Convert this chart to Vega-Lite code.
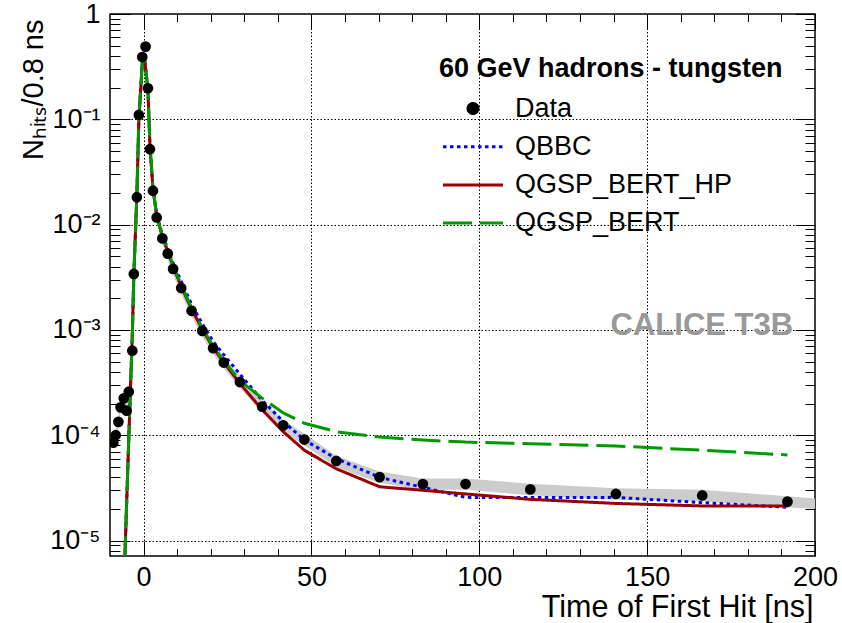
{
  "$schema": "https://vega.github.io/schema/vega-lite/v6.json",
  "width": 705,
  "height": 542,
  "autosize": {"type": "none"},
  "padding": {"left": 110, "top": 14, "right": 27, "bottom": 67},
  "background": "white",
  "config": {
    "view": {"stroke": "black", "strokeWidth": 1.5},
    "font": "Liberation Sans",
    "axis": {"labelFont": "Liberation Sans", "titleFont": "Liberation Sans", "labelColor": "black", "titleColor": "black", "titleFontWeight": "normal"}
  },
  "datasets": {
    "band": [
      {"x": -9.0, "lo": 7.5e-5, "hi": 9.6e-5},
      {"x": -8.3, "lo": 8.8e-5, "hi": 1.13e-4},
      {"x": -7.5, "lo": 1.18e-4, "hi": 1.51e-4},
      {"x": -6.85, "lo": 1.62e-4, "hi": 2.08e-4},
      {"x": -5.9, "lo": 1.97e-4, "hi": 2.53e-4},
      {"x": -5.05, "lo": 1.5e-4, "hi": 1.93e-4},
      {"x": -4.4, "lo": 2.28e-4, "hi": 2.93e-4},
      {"x": -3.35, "lo": 5.59e-4, "hi": 7.18e-4},
      {"x": -2.9, "lo": 2.99e-3, "hi": 3.84e-3},
      {"x": -2.0, "lo": 0.016, "hi": 0.0206},
      {"x": -1.4, "lo": 0.0968, "hi": 0.124},
      {"x": -0.4, "lo": 0.343, "hi": 0.441},
      {"x": 0.6, "lo": 0.431, "hi": 0.554},
      {"x": 1.3, "lo": 0.173, "hi": 0.223},
      {"x": 1.9, "lo": 0.0458, "hi": 0.0588},
      {"x": 2.8, "lo": 0.0185, "hi": 0.0237},
      {"x": 3.9, "lo": 0.0103, "hi": 0.0132},
      {"x": 5.6, "lo": 0.00651, "hi": 0.00836},
      {"x": 7.2, "lo": 0.00466, "hi": 0.00599},
      {"x": 8.8, "lo": 0.00334, "hi": 0.00429},
      {"x": 11.2, "lo": 0.0022, "hi": 0.00283},
      {"x": 14.3, "lo": 0.00134, "hi": 0.00172},
      {"x": 17.5, "lo": 0.000862, "hi": 0.00111},
      {"x": 20.7, "lo": 0.00059, "hi": 0.000757},
      {"x": 23.9, "lo": 0.000431, "hi": 0.000554},
      {"x": 28.7, "lo": 0.000282, "hi": 0.000362},
      {"x": 35.3, "lo": 0.000165, "hi": 0.000211},
      {"x": 41.6, "lo": 0.000109, "hi": 0.00014},
      {"x": 47.9, "lo": 8.0e-5, "hi": 1.03e-4},
      {"x": 57.4, "lo": 5.0e-5, "hi": 6.4e-5},
      {"x": 70.3, "lo": 3.52e-5, "hi": 4.52e-5},
      {"x": 83.2, "lo": 3.03e-5, "hi": 3.89e-5},
      {"x": 95.9, "lo": 3.03e-5, "hi": 3.89e-5},
      {"x": 115.2, "lo": 2.69e-5, "hi": 3.46e-5},
      {"x": 140.7, "lo": 2.44e-5, "hi": 3.13e-5},
      {"x": 166.4, "lo": 2.36e-5, "hi": 3.03e-5},
      {"x": 191.8, "lo": 2.06e-5, "hi": 2.64e-5},
      {"x": 200, "lo": 2.0e-5, "hi": 2.5e-5}
    ],
    "data": [
      {"x": -9.0, "y": 8.5e-5},
      {"x": -8.3, "y": 1.0e-4},
      {"x": -7.5, "y": 1.34e-4},
      {"x": -6.85, "y": 1.84e-4},
      {"x": -5.9, "y": 2.24e-4},
      {"x": -5.05, "y": 1.71e-4},
      {"x": -4.4, "y": 2.59e-4},
      {"x": -3.35, "y": 6.35e-4},
      {"x": -2.9, "y": 3.4e-3},
      {"x": -2.0, "y": 0.0182},
      {"x": -1.4, "y": 0.11},
      {"x": -0.4, "y": 0.39},
      {"x": 0.6, "y": 0.49},
      {"x": 1.3, "y": 0.197},
      {"x": 1.9, "y": 0.052},
      {"x": 2.8, "y": 0.021},
      {"x": 3.9, "y": 0.0117},
      {"x": 5.6, "y": 0.0074},
      {"x": 7.2, "y": 0.0053},
      {"x": 8.8, "y": 0.0038},
      {"x": 11.2, "y": 0.0025},
      {"x": 14.3, "y": 0.00152},
      {"x": 17.5, "y": 0.00098},
      {"x": 20.7, "y": 0.00067},
      {"x": 23.9, "y": 0.00049},
      {"x": 28.7, "y": 0.00032},
      {"x": 35.3, "y": 0.000187},
      {"x": 41.6, "y": 0.000124},
      {"x": 47.9, "y": 9.1e-5},
      {"x": 57.4, "y": 5.7e-5},
      {"x": 70.3, "y": 4.0e-5},
      {"x": 83.2, "y": 3.44e-5},
      {"x": 95.9, "y": 3.44e-5},
      {"x": 115.2, "y": 3.06e-5},
      {"x": 140.7, "y": 2.77e-5},
      {"x": 166.4, "y": 2.68e-5},
      {"x": 191.8, "y": 2.34e-5}
    ],
    "curves": [
      {"s": "QBBC", "x": -6.0, "y": 2.6e-6},
      {"s": "QBBC", "x": -5.0, "y": 2.5e-5},
      {"s": "QBBC", "x": -4.4, "y": 9.5e-5},
      {"s": "QBBC", "x": -3.35, "y": 9.0e-4},
      {"s": "QBBC", "x": -2.9, "y": 3.3e-3},
      {"s": "QBBC", "x": -2.0, "y": 0.019},
      {"s": "QBBC", "x": -1.4, "y": 0.1},
      {"s": "QBBC", "x": -0.4, "y": 0.34},
      {"s": "QBBC", "x": 0.3, "y": 0.37},
      {"s": "QBBC", "x": 1.3, "y": 0.19},
      {"s": "QBBC", "x": 1.9, "y": 0.056},
      {"s": "QBBC", "x": 2.8, "y": 0.022},
      {"s": "QBBC", "x": 3.9, "y": 0.0125},
      {"s": "QBBC", "x": 5.6, "y": 0.008},
      {"s": "QBBC", "x": 7.2, "y": 0.0059},
      {"s": "QBBC", "x": 8.8, "y": 0.0043},
      {"s": "QBBC", "x": 11.2, "y": 0.0029},
      {"s": "QBBC", "x": 14.3, "y": 0.00175},
      {"s": "QBBC", "x": 17.5, "y": 0.00114},
      {"s": "QBBC", "x": 20.7, "y": 0.00078},
      {"s": "QBBC", "x": 23.9, "y": 0.00058},
      {"s": "QBBC", "x": 28.7, "y": 0.00038},
      {"s": "QBBC", "x": 35.3, "y": 0.000215},
      {"s": "QBBC", "x": 41.6, "y": 0.000135},
      {"s": "QBBC", "x": 47.9, "y": 9.0e-5},
      {"s": "QBBC", "x": 57.4, "y": 6.0e-5},
      {"s": "QBBC", "x": 70.3, "y": 3.98e-5},
      {"s": "QBBC", "x": 83.2, "y": 3.2e-5},
      {"s": "QBBC", "x": 95.9, "y": 2.57e-5},
      {"s": "QBBC", "x": 115.2, "y": 2.56e-5},
      {"s": "QBBC", "x": 140.7, "y": 2.57e-5},
      {"s": "QBBC", "x": 166.4, "y": 2.29e-5},
      {"s": "QBBC", "x": 191.8, "y": 2.07e-5},
      {"s": "QGSP_BERT_HP", "x": -6.0, "y": 2.6e-6},
      {"s": "QGSP_BERT_HP", "x": -5.0, "y": 2.5e-5},
      {"s": "QGSP_BERT_HP", "x": -4.4, "y": 9.5e-5},
      {"s": "QGSP_BERT_HP", "x": -3.35, "y": 9.0e-4},
      {"s": "QGSP_BERT_HP", "x": -2.9, "y": 3.3e-3},
      {"s": "QGSP_BERT_HP", "x": -2.0, "y": 0.019},
      {"s": "QGSP_BERT_HP", "x": -1.4, "y": 0.1},
      {"s": "QGSP_BERT_HP", "x": -0.4, "y": 0.34},
      {"s": "QGSP_BERT_HP", "x": 0.3, "y": 0.37},
      {"s": "QGSP_BERT_HP", "x": 1.3, "y": 0.19},
      {"s": "QGSP_BERT_HP", "x": 1.9, "y": 0.056},
      {"s": "QGSP_BERT_HP", "x": 2.8, "y": 0.022},
      {"s": "QGSP_BERT_HP", "x": 3.9, "y": 0.0122},
      {"s": "QGSP_BERT_HP", "x": 5.6, "y": 0.0077},
      {"s": "QGSP_BERT_HP", "x": 7.2, "y": 0.0056},
      {"s": "QGSP_BERT_HP", "x": 8.8, "y": 0.004},
      {"s": "QGSP_BERT_HP", "x": 11.2, "y": 0.0026},
      {"s": "QGSP_BERT_HP", "x": 14.3, "y": 0.00158},
      {"s": "QGSP_BERT_HP", "x": 17.5, "y": 0.00101},
      {"s": "QGSP_BERT_HP", "x": 20.7, "y": 0.00068},
      {"s": "QGSP_BERT_HP", "x": 23.9, "y": 0.00049},
      {"s": "QGSP_BERT_HP", "x": 28.7, "y": 0.00031},
      {"s": "QGSP_BERT_HP", "x": 35.3, "y": 0.000175},
      {"s": "QGSP_BERT_HP", "x": 41.6, "y": 0.000108},
      {"s": "QGSP_BERT_HP", "x": 47.9, "y": 7.2e-5},
      {"s": "QGSP_BERT_HP", "x": 57.4, "y": 4.8e-5},
      {"s": "QGSP_BERT_HP", "x": 70.3, "y": 3.24e-5},
      {"s": "QGSP_BERT_HP", "x": 83.2, "y": 3.0e-5},
      {"s": "QGSP_BERT_HP", "x": 95.9, "y": 2.77e-5},
      {"s": "QGSP_BERT_HP", "x": 115.2, "y": 2.46e-5},
      {"s": "QGSP_BERT_HP", "x": 140.7, "y": 2.25e-5},
      {"s": "QGSP_BERT_HP", "x": 166.4, "y": 2.13e-5},
      {"s": "QGSP_BERT_HP", "x": 191.8, "y": 2.13e-5},
      {"s": "QGSP_BERT", "x": -6.0, "y": 2.6e-6},
      {"s": "QGSP_BERT", "x": -5.0, "y": 2.5e-5},
      {"s": "QGSP_BERT", "x": -4.4, "y": 9.5e-5},
      {"s": "QGSP_BERT", "x": -3.35, "y": 9.0e-4},
      {"s": "QGSP_BERT", "x": -2.9, "y": 3.3e-3},
      {"s": "QGSP_BERT", "x": -2.0, "y": 0.019},
      {"s": "QGSP_BERT", "x": -1.4, "y": 0.1},
      {"s": "QGSP_BERT", "x": -0.4, "y": 0.34},
      {"s": "QGSP_BERT", "x": 0.3, "y": 0.37},
      {"s": "QGSP_BERT", "x": 1.3, "y": 0.19},
      {"s": "QGSP_BERT", "x": 1.9, "y": 0.056},
      {"s": "QGSP_BERT", "x": 2.8, "y": 0.022},
      {"s": "QGSP_BERT", "x": 3.9, "y": 0.0123},
      {"s": "QGSP_BERT", "x": 5.6, "y": 0.0078},
      {"s": "QGSP_BERT", "x": 7.2, "y": 0.0057},
      {"s": "QGSP_BERT", "x": 8.8, "y": 0.0041},
      {"s": "QGSP_BERT", "x": 11.2, "y": 0.0027},
      {"s": "QGSP_BERT", "x": 14.3, "y": 0.00162},
      {"s": "QGSP_BERT", "x": 17.5, "y": 0.00104},
      {"s": "QGSP_BERT", "x": 20.7, "y": 0.0007},
      {"s": "QGSP_BERT", "x": 23.9, "y": 0.00051},
      {"s": "QGSP_BERT", "x": 28.7, "y": 0.00033},
      {"s": "QGSP_BERT", "x": 35.3, "y": 0.000225},
      {"s": "QGSP_BERT", "x": 41.6, "y": 0.000163},
      {"s": "QGSP_BERT", "x": 47.9, "y": 0.00013},
      {"s": "QGSP_BERT", "x": 57.4, "y": 0.000108},
      {"s": "QGSP_BERT", "x": 70.3, "y": 9.6e-5},
      {"s": "QGSP_BERT", "x": 83.2, "y": 9.0e-5},
      {"s": "QGSP_BERT", "x": 95.9, "y": 8.6e-5},
      {"s": "QGSP_BERT", "x": 115.2, "y": 8.3e-5},
      {"s": "QGSP_BERT", "x": 140.7, "y": 7.9e-5},
      {"s": "QGSP_BERT", "x": 166.4, "y": 7.2e-5},
      {"s": "QGSP_BERT", "x": 191.8, "y": 6.5e-5}
    ],
    "note": [{"label": "CALICE T3B"}]
  },
  "resolve": {"axis": {"x": "independent", "y": "independent"}},
  "layer": [
    {
      "data": {"name": "band"},
      "mark": {"type": "area", "color": "#cccccc", "clip": true},
      "encoding": {
        "x": {
          "field": "x", "type": "quantitative",
          "scale": {"domain": [-10, 200], "nice": false, "zero": false},
          "axis": {
            "orient": "bottom",
            "values": [0, 10, 20, 30, 40, 50, 60, 70, 80, 90, 100, 110, 120, 130, 140, 150, 160, 170, 180, 190, 200],
            "labelExpr": "datum.value % 50 == 0 ? '' + datum.value : ''",
            "labelFontSize": 27, "labelPadding": 23, "labelFlush": false, "labelOverlap": false,
            "domain": false,
            "grid": true, "gridColor": "black", "gridDash": [1.5, 2], "gridWidth": 1,
            "gridOpacity": {"condition": {"test": "datum.value % 50 == 0 && datum.value < 200", "value": 1}, "value": 0},
            "tickColor": "black", "tickWidth": 1,
            "tickSize": {"condition": {"test": "datum.value % 50 == 0", "value": -15}, "value": -7.5},
            "title": "Time of First Hit [ns]", "titleFontSize": 30.5,
            "titleAnchor": "end", "titleAlign": "right", "titleBaseline": "alphabetic",
            "titleX": 703, "titleY": 60
          }
        },
        "y": {
          "field": "lo", "type": "quantitative",
          "scale": {"type": "log", "domain": [0.00000713, 1], "nice": false},
          "axis": {
            "orient": "left",
            "values": [0.000008, 0.000009, 0.00001, 0.00002, 0.00003, 0.00004, 0.00005, 0.00006, 0.00007, 0.00008, 0.00009, 0.0001, 0.0002, 0.0003, 0.0004, 0.0005, 0.0006, 0.0007, 0.0008, 0.0009, 0.001, 0.002, 0.003, 0.004, 0.005, 0.006, 0.007, 0.008, 0.009, 0.01, 0.02, 0.03, 0.04, 0.05, 0.06, 0.07, 0.08, 0.09, 0.1, 0.2, 0.3, 0.4, 0.5, 0.6, 0.7, 0.8, 0.9, 1],
            "labelExpr": "datum.value == 1 ? '1' : datum.value == 0.1 ? '10⁻¹' : datum.value == 0.01 ? '10⁻²' : datum.value == 0.001 ? '10⁻³' : datum.value == 0.0001 ? '10⁻⁴' : datum.value == 0.00001 ? '10⁻⁵' : ''",
            "labelFontSize": 27, "labelPadding": 30, "labelFlush": false, "labelOverlap": false,
            "domain": false,
            "grid": true, "gridColor": "black", "gridDash": [1.5, 2], "gridWidth": 1,
            "gridOpacity": {"condition": {"test": "abs(log(datum.value)/LN10 - round(log(datum.value)/LN10)) < 0.001 && datum.value < 0.5", "value": 1}, "value": 0},
            "tickColor": "black", "tickWidth": 1,
            "tickSize": {"condition": {"test": "abs(log(datum.value)/LN10 - round(log(datum.value)/LN10)) < 0.001", "value": -20}, "value": -10},
            "title": "Nₕᵢₜₛ/0.8 ns", "titleFontSize": 29,
            "titleAngle": 270, "titleAlign": "right", "titleBaseline": "alphabetic",
            "titleX": -68, "titleY": 5
          }
        },
        "y2": {"field": "hi"}
      }
    },
    {
      "data": {"name": "curves"},
      "mark": {"type": "line", "clip": true, "strokeWidth": 3},
      "encoding": {
        "x": {
          "field": "x", "type": "quantitative",
          "axis": {
            "orient": "top",
            "values": [0, 10, 20, 30, 40, 50, 60, 70, 80, 90, 100, 110, 120, 130, 140, 150, 160, 170, 180, 190, 200],
            "labels": false, "domain": false, "grid": false,
            "tickColor": "black", "tickWidth": 1,
            "tickSize": {"condition": {"test": "datum.value % 50 == 0", "value": -15}, "value": -7.5},
            "title": null
          }
        },
        "y": {
          "field": "y", "type": "quantitative",
          "axis": {
            "orient": "right",
            "values": [0.000008, 0.000009, 0.00001, 0.00002, 0.00003, 0.00004, 0.00005, 0.00006, 0.00007, 0.00008, 0.00009, 0.0001, 0.0002, 0.0003, 0.0004, 0.0005, 0.0006, 0.0007, 0.0008, 0.0009, 0.001, 0.002, 0.003, 0.004, 0.005, 0.006, 0.007, 0.008, 0.009, 0.01, 0.02, 0.03, 0.04, 0.05, 0.06, 0.07, 0.08, 0.09, 0.1, 0.2, 0.3, 0.4, 0.5, 0.6, 0.7, 0.8, 0.9, 1],
            "labels": false, "domain": false, "grid": false,
            "tickColor": "black", "tickWidth": 1,
            "tickSize": {"condition": {"test": "abs(log(datum.value)/LN10 - round(log(datum.value)/LN10)) < 0.001", "value": -20}, "value": -10},
            "title": null
          }
        },
        "color": {
          "field": "s", "type": "nominal",
          "scale": {"domain": ["Data", "QBBC", "QGSP_BERT_HP", "QGSP_BERT"], "range": ["black", "#0000ff", "#990000", "#009900"]},
          "legend": {
            "title": "60 GeV hadrons - tungsten",
            "orient": "none", "legendX": 329.5, "legendY": 42,
            "padding": 0,
            "titleFont": "Liberation Sans", "titleFontSize": 27, "titleFontWeight": "bold", "titleColor": "black", "titlePadding": 12, "titleLimit": 600,
            "labelFont": "Liberation Sans", "labelFontSize": 27, "labelColor": "black", "labelOffset": 28.5, "labelLimit": 500,
            "rowPadding": 10.2, "symbolSize": 100, "symbolStrokeWidth": 3,
            "encode": {
              "title": {"update": {"dx": {"value": -20.5}}},
              "symbols": {"update": {
                "shape": {"signal": "datum.value === 'Data' ? 'circle' : 'M-6,0H6'"},
                "fill": {"signal": "datum.value === 'Data' ? 'black' : 'transparent'"},
                "stroke": {"signal": "datum.value === 'Data' ? 'transparent' : scale('color', datum.value)"},
                "strokeDash": {"signal": "datum.value === 'QBBC' ? [3.5, 3.5] : datum.value === 'QGSP_BERT' ? [29, 8] : [1, 0]"},
                "strokeWidth": {"value": 3},
                "opacity": {"value": 1}
              }}
            }
          }
        },
        "strokeDash": {
          "field": "s", "type": "nominal",
          "scale": {"domain": ["QBBC", "QGSP_BERT_HP", "QGSP_BERT"], "range": [[3.5, 3.5], [1, 0], [29, 8]]},
          "legend": null
        }
      }
    },
    {
      "data": {"name": "data"},
      "mark": {"type": "point", "filled": true, "size": 115, "color": "black", "opacity": 1, "clip": true},
      "encoding": {
        "x": {"field": "x", "type": "quantitative", "axis": null},
        "y": {"field": "y", "type": "quantitative", "axis": null}
      }
    },
    {
      "data": {"name": "note"},
      "mark": {"type": "text", "font": "Liberation Sans", "fontSize": 31, "fontWeight": "bold", "color": "#999999", "align": "right", "baseline": "alphabetic"},
      "encoding": {
        "x": {"datum": 193.5, "type": "quantitative", "axis": null},
        "y": {"datum": 0.00089, "type": "quantitative", "axis": null},
        "text": {"field": "label"}
      }
    }
  ]
}
